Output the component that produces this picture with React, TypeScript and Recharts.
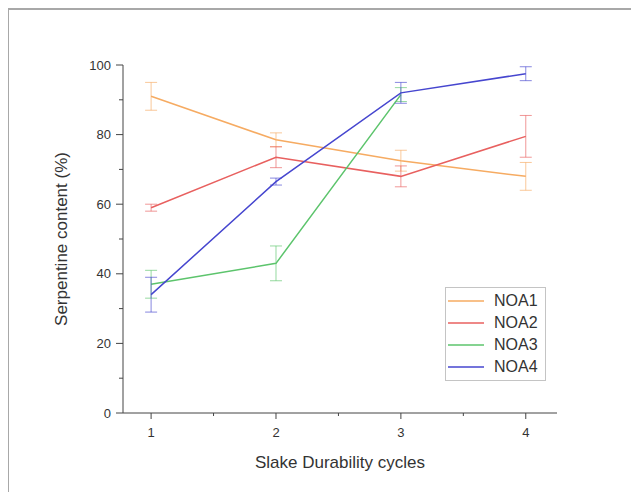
import React from 'react';
import { LineChart, Line, XAxis, YAxis, ErrorBar, Legend } from 'recharts';

const cycles = [1, 2, 3, 4];
const noa1 = [91, 78.5, 72.5, 68];
const noa1Err = [4, 2, 3, 4];
const noa2 = [59, 73.5, 68, 79.5];
const noa2Err = [1, 3, 3, 6];
const noa3 = [37, 43, 91.5, null];
const noa3Err = [4, 5, 2, null];
const noa4 = [34, 66.5, 92, 97.5];
const noa4Err = [5, 1, 3, 2];

const xTicks = [1, 1.5, 2, 2.5, 3, 3.5, 4];
const yTicks = [0, 10, 20, 30, 40, 50, 60, 70, 80, 90, 100];

const series = [
  { key: 'NOA1', err: 'NOA1e', color: '#f6ab62' },
  { key: 'NOA2', err: 'NOA2e', color: '#e8605f' },
  { key: 'NOA3', err: 'NOA3e', color: '#5cc46c' },
  { key: 'NOA4', err: 'NOA4e', color: '#4646cf' },
];

const data = cycles.map((c, i) => ({
  cycle: c,
  NOA1: noa1[i], NOA1e: noa1Err[i],
  NOA2: noa2[i], NOA2e: noa2Err[i],
  NOA3: noa3[i], NOA3e: noa3Err[i],
  NOA4: noa4[i], NOA4e: noa4Err[i],
}));

const font = '"Liberation Sans", Arial, sans-serif';
const axisColor = '#444';

const YTick = ({ x, y, payload }: any) => {
  const major = payload.value % 20 === 0;
  return (
    <g>
      <line x1={x - (major ? 7 : 4)} x2={x} y1={y} y2={y} stroke={axisColor} strokeWidth={1} />
      {major && (
        <text x={x - 12} y={y} textAnchor="end" dominantBaseline="central" fontSize={13} fill="#333" fontFamily={font}>
          {payload.value}
        </text>
      )}
    </g>
  );
};

const XTick = ({ x, y, payload }: any) => {
  const major = Number.isInteger(payload.value);
  return (
    <g>
      <line x1={x} x2={x} y1={y} y2={y + (major ? 6 : 3)} stroke={axisColor} strokeWidth={1} />
      {major && (
        <text x={x} y={y + 19} textAnchor="middle" dominantBaseline="central" fontSize={13} fill="#333" fontFamily={font}>
          {payload.value}
        </text>
      )}
    </g>
  );
};

const LegendBox = () => (
  <div style={{ border: '1px solid #c4c4c4', background: '#fff', padding: '2px 0', boxSizing: 'border-box', width: 101 }}>
    {series.map((s) => (
      <div key={s.key} style={{ display: 'flex', alignItems: 'center', height: 22 }}>
        <svg width={48} height={22}>
          <line x1={2} x2={38} y1={11} y2={11} stroke={s.color} strokeWidth={1.5} />
        </svg>
        <span style={{ fontFamily: font, fontSize: 16, color: '#333', lineHeight: '22px' }}>{s.key}</span>
      </div>
    ))}
  </div>
);

export default function App() {
  return (
    <div style={{ position: 'relative', width: 631, height: 484 }}>
      <div
        style={{
          position: 'absolute', left: -1, top: 0, width: 640, height: 484,
          borderTop: '2px solid #a8a8a8', borderLeft: '2px solid #a8a8a8', boxSizing: 'border-box',
        }}
      />
      <LineChart width={631} height={484} data={data} margin={{ top: 57, right: 82, left: 0, bottom: 0 }}>
        <XAxis
          dataKey="cycle"
          type="number"
          domain={[0.775, 4.25]}
          ticks={xTicks}
          interval={0}
          height={79}
          tickSize={0}
          tickMargin={0}
          tickLine={false}
          tick={<XTick />}
          stroke={axisColor}
          allowDataOverflow
          label={{ value: 'Slake Durability cycles', position: 'insideBottom', offset: 24, fontSize: 17, fill: '#333', fontFamily: font }}
        />
        <YAxis
          type="number"
          domain={[0, 100]}
          ticks={yTicks}
          interval={0}
          width={115}
          tickSize={0}
          tickMargin={0}
          tickLine={false}
          tick={<YTick />}
          stroke={axisColor}
          label={{
            value: 'Serpentine content (%)', angle: -90, position: 'insideLeft', offset: 53,
            fontSize: 17, fill: '#333', fontFamily: font, style: { textAnchor: 'middle' },
          }}
        />
        <Legend
          layout="horizontal"
          verticalAlign="middle"
          align="center"
          content={<LegendBox />}
          wrapperStyle={{ left: 437, top: 279, width: 101 }}
        />
        {series.map((s) => (
          <Line
            key={s.key}
            dataKey={s.key}
            stroke={s.color}
            strokeWidth={1.5}
            dot={false}
            activeDot={false}
            isAnimationActive={false}
            type="linear"
          >
            <ErrorBar dataKey={s.err} width={6} stroke={s.color} strokeWidth={1} strokeOpacity={0.65} direction="y" />
          </Line>
        ))}
      </LineChart>
    </div>
  );
}
